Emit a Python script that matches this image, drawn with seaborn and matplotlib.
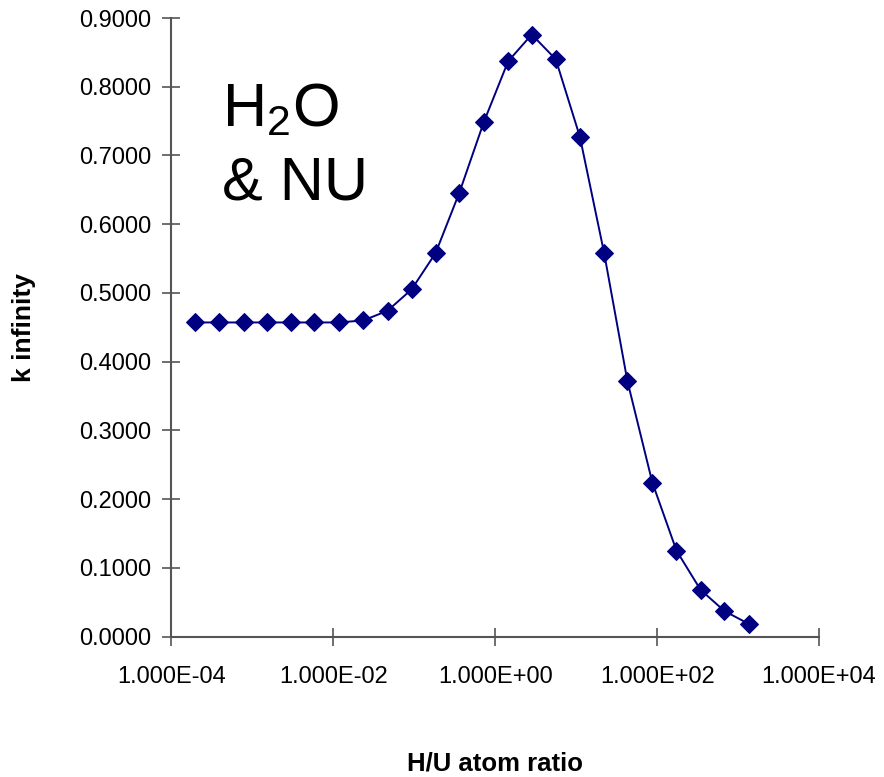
import numpy as np
import pandas as pd
import matplotlib
matplotlib.use("Agg")
import matplotlib.pyplot as plt
import matplotlib.ticker as mticker
import seaborn as sns

# Data
hu_ratio = [1.94e-4, 3.84e-4, 7.83e-4, 1.52e-3, 3.02e-3, 5.77e-3, 1.17e-2, 2.35e-2,
            4.66e-2, 9.23e-2, 0.183, 0.360, 0.718, 1.44, 2.82, 5.58, 11.1, 22.1,
            42.8, 87.1, 173, 343, 678, 1370]
k_inf = [0.457, 0.457, 0.457, 0.457, 0.457, 0.457, 0.457, 0.460,
         0.474, 0.505, 0.558, 0.646, 0.748, 0.837, 0.876, 0.840, 0.727, 0.558,
         0.372, 0.224, 0.125, 0.068, 0.037, 0.018]
x_ticks = [1e-4, 1e-2, 1e0, 1e2, 1e4]
y_ticks = [0.0, 0.1, 0.2, 0.3, 0.4, 0.5, 0.6, 0.7, 0.8, 0.9]

df = pd.DataFrame({"hu": hu_ratio, "k": k_inf})

sns.set_style("ticks")
plt.rcParams["font.family"] = ["Liberation Sans", "DejaVu Sans"]
plt.rcParams["mathtext.fontset"] = "custom"
plt.rcParams["mathtext.rm"] = "Liberation Sans"
plt.rcParams["mathtext.it"] = "Liberation Sans"
plt.rcParams["mathtext.default"] = "regular"
plt.rcParams["text.color"] = "black"
plt.rcParams["axes.labelcolor"] = "black"
plt.rcParams["xtick.color"] = "#555555"
plt.rcParams["ytick.color"] = "#555555"
plt.rcParams["xtick.labelcolor"] = "black"
plt.rcParams["ytick.labelcolor"] = "black"

fig = plt.figure(figsize=(8.84, 7.77), dpi=100)
ax = fig.add_axes([0.194, 0.1808, 0.7326, 0.796])

sns.lineplot(data=df, x="hu", y="k", ax=ax, color="#000080", marker="D",
             markersize=9, markeredgecolor="#000080", linewidth=1.4, sort=False)

ax.set_xscale("log")
ax.set_xlim(1e-4, 1e4)
ax.set_ylim(0, 0.9)
ax.set_xticks(x_ticks)
ax.xaxis.set_minor_locator(mticker.NullLocator())
ax.xaxis.set_major_formatter(mticker.FuncFormatter(lambda v, p: f"{v:.3E}"))
ax.set_yticks(y_ticks)
ax.yaxis.set_major_formatter(mticker.FuncFormatter(lambda v, p: f"{v:.4f}"))

for s in ["top", "right"]:
    ax.spines[s].set_visible(False)
for s in ["left", "bottom"]:
    ax.spines[s].set_color("#555555")
    ax.spines[s].set_linewidth(1.5)

ax.tick_params(axis="y", direction="inout", length=13, width=1.2,
               labelsize=17, pad=8)
ax.tick_params(axis="x", direction="inout", length=13, width=1.2,
               labelsize=17, pad=15)

ax.set_xlabel("H/U atom ratio", fontsize=18.5, fontweight="bold")
ax.set_ylabel("k infinity", fontsize=19, fontweight="bold")
ax.xaxis.set_label_coords(0.5, -0.186)
ax.yaxis.set_label_coords(-0.209, 0.5)

ax.text(0.078, 0.824, "H$_2$O", transform=ax.transAxes, fontsize=44,
        va="baseline", ha="left", color="black")
ax.text(0.078, 0.706, "& NU", transform=ax.transAxes, fontsize=44,
        va="baseline", ha="left", color="black")

fig.savefig("out.png", dpi=100, facecolor="white")
